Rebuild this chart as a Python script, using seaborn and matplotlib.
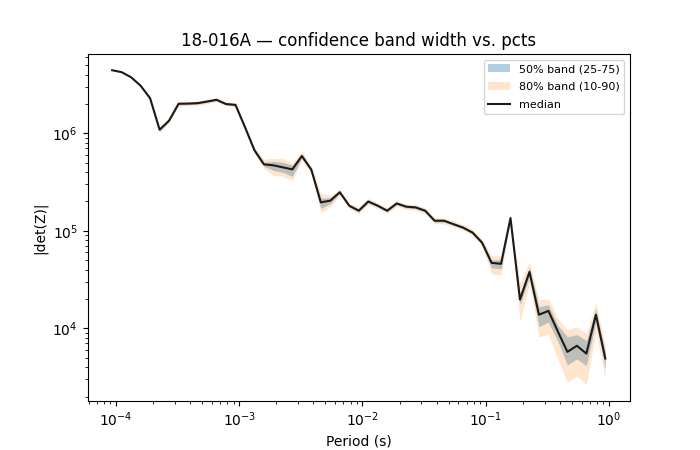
import pandas as pd
import seaborn as sns
import matplotlib
matplotlib.use("Agg")
import matplotlib.pyplot as plt

# periods (s)
period = [
    9.33e-5, 1.114e-4, 1.330e-4, 1.587e-4, 1.895e-4, 2.262e-4, 2.700e-4, 3.224e-4, 3.849e-4, 4.594e-4, 5.484e-4, 6.547e-4, 7.816e-4,
    9.33e-4, 1.114e-3, 1.330e-3, 1.587e-3, 1.895e-3, 2.262e-3, 2.700e-3, 3.224e-3, 3.849e-3, 4.594e-3, 5.484e-3, 6.547e-3, 7.816e-3,
    9.33e-3, 1.114e-2, 1.330e-2, 1.587e-2, 1.895e-2, 2.262e-2, 2.700e-2, 3.224e-2, 3.849e-2, 4.594e-2, 5.484e-2, 6.547e-2, 7.816e-2,
    9.33e-2, 1.114e-1, 1.330e-1, 1.587e-1, 1.895e-1, 2.262e-1, 2.700e-1, 3.224e-1, 3.849e-1, 4.594e-1, 5.484e-1, 6.547e-1, 7.816e-1,
    0.933,
]

# |det(Z)| percentiles
p50 = [
    4.44e6, 4.24e6, 3.76e6, 3.08e6, 2.29e6, 1.09e6, 1.35e6, 2.01e6, 2.02e6, 2.04e6, 2.12e6, 2.21e6, 2.00e6,
    1.96e6, 1.16e6, 6.71e5, 4.81e5, 4.70e5, 4.48e5, 4.27e5, 5.86e5, 4.24e5, 1.96e5, 2.04e5, 2.49e5, 1.81e5,
    1.61e5, 2.00e5, 1.81e5, 1.61e5, 1.91e5, 1.77e5, 1.74e5, 1.61e5, 1.27e5, 1.27e5, 1.17e5, 1.08e5, 9.60e4,
    7.57e4, 4.70e4, 4.59e4, 1.35e5, 1.97e4, 3.79e4, 1.38e4, 1.51e4, 9.25e3, 5.74e3, 6.63e3, 5.51e3, 1.38e4,
    4.90e3,
]
p25 = [
    4.41e6, 4.21e6, 3.73e6, 3.06e6, 2.25e6, 1.06e6, 1.32e6, 1.96e6, 1.97e6, 1.99e6, 2.07e6, 2.16e6, 1.95e6,
    1.91e6, 1.13e6, 6.48e5, 4.59e5, 4.17e5, 3.98e5, 3.62e5, 5.59e5, 4.04e5, 1.70e5, 1.90e5, 2.42e5, 1.76e5,
    1.56e5, 1.94e5, 1.76e5, 1.56e5, 1.86e5, 1.72e5, 1.69e5, 1.56e5, 1.23e5, 1.23e5, 1.14e5, 1.05e5, 9.33e4,
    7.31e4, 4.17e4, 4.08e4, 1.30e5, 1.75e4, 3.37e4, 1.04e4, 1.16e4, 7.29e3, 4.21e3, 4.86e3, 4.14e3, 1.17e4,
    3.86e3,
]
p75 = [
    4.47e6, 4.27e6, 3.79e6, 3.10e6, 2.33e6, 1.12e6, 1.38e6, 2.06e6, 2.07e6, 2.09e6, 2.17e6, 2.26e6, 2.05e6,
    2.01e6, 1.19e6, 6.95e5, 5.05e5, 5.17e5, 5.04e5, 4.70e5, 6.15e5, 4.34e5, 2.16e5, 2.19e5, 2.56e5, 1.86e5,
    1.66e5, 2.06e5, 1.86e5, 1.66e5, 1.97e5, 1.82e5, 1.79e5, 1.66e5, 1.31e5, 1.31e5, 1.20e5, 1.11e5, 9.88e4,
    7.84e4, 5.05e4, 5.05e4, 1.40e5, 2.27e4, 4.27e4, 1.67e4, 1.74e4, 1.07e4, 8.20e3, 8.62e3, 7.51e3, 1.59e4,
    5.65e3,
]
p10 = [
    4.39e6, 4.19e6, 3.72e6, 3.04e6, 2.21e6, 1.01e6, 1.29e6, 1.92e6, 1.93e6, 1.94e6, 2.02e6, 2.11e6, 1.91e6,
    1.87e6, 1.09e6, 6.25e5, 4.37e5, 3.70e5, 3.62e5, 3.28e5, 5.33e5, 3.85e5, 1.54e5, 1.77e5, 2.32e5, 1.69e5,
    1.50e5, 1.86e5, 1.69e5, 1.50e5, 1.78e5, 1.65e5, 1.62e5, 1.50e5, 1.18e5, 1.18e5, 1.09e5, 1.01e5, 8.94e4,
    6.96e4, 3.62e4, 3.53e4, 1.26e5, 1.17e4, 2.92e4, 8.17e3, 8.73e3, 4.75e3, 2.81e3, 3.25e3, 2.64e3, 9.21e3,
    3.04e3,
]
p90 = [
    4.49e6, 4.29e6, 3.81e6, 3.12e6, 2.37e6, 1.17e6, 1.42e6, 2.11e6, 2.12e6, 2.14e6, 2.22e6, 2.32e6, 2.10e6,
    2.06e6, 1.23e6, 7.21e5, 5.42e5, 5.55e5, 5.55e5, 4.93e5, 6.60e5, 4.55e5, 2.43e5, 2.30e5, 2.67e5, 1.94e5,
    1.73e5, 2.15e5, 1.94e5, 1.73e5, 2.05e5, 1.90e5, 1.87e5, 1.73e5, 1.36e5, 1.36e5, 1.26e5, 1.16e5, 1.03e5,
    8.23e4, 5.55e4, 5.55e4, 1.45e5, 2.88e4, 4.81e4, 1.97e4, 2.01e4, 1.26e4, 9.69e3, 1.04e4, 8.87e3, 1.84e4,
    6.52e3,
]

df = pd.DataFrame({"period": period, "p10": p10, "p25": p25, "p50": p50, "p75": p75, "p90": p90})

fig, ax = plt.subplots(figsize=(7, 4.5), dpi=100)

# 50% band first, 80% band drawn on top of it
ax.fill_between(df["period"], df["p25"], df["p75"], color="tab:blue", alpha=0.35,
                linewidth=0, label="50% band (25-75)")
ax.fill_between(df["period"], df["p10"], df["p90"], color="tab:orange", alpha=0.2,
                linewidth=0, label="80% band (10-90)")
sns.lineplot(data=df, x="period", y="p50", color="#1a1a1a", linewidth=1.5, label="median", ax=ax)

ax.set_xscale("log")
ax.set_yscale("log")
ax.set_xlabel("Period (s)")
ax.set_ylabel("|det(Z)|")
ax.set_title("18-016A — confidence band width vs. pcts")
ax.legend(loc="upper right", fontsize=8, labelspacing=0.7)

plt.savefig("out.png", dpi=100)
plt.close()
